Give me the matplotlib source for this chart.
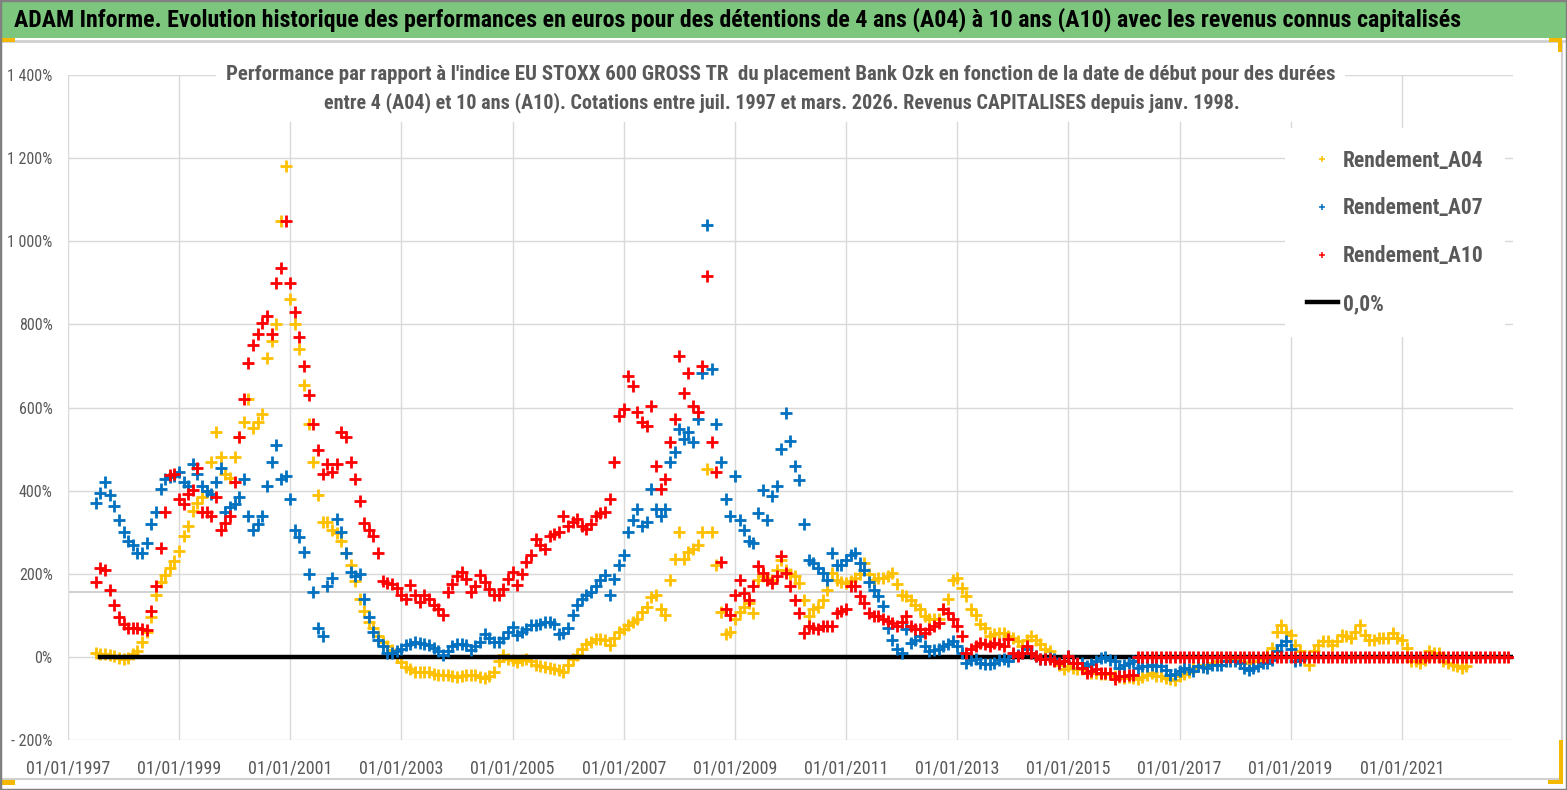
#!/usr/bin/env python3
"""Bank Ozk vs EU STOXX 600 GROSS TR: relative performance for 4, 7 and 10 year holdings.

Values are monthly readings (in %) taken on the first day of each month,
starting at the series' first start date.
"""

import matplotlib

matplotlib.use("Agg")
import matplotlib.pyplot as plt
import pandas as pd
from matplotlib import font_manager
from matplotlib.lines import Line2D
from matplotlib.patches import Rectangle

FIG_W, FIG_H = 1567, 790

BANNER_TITLE = ("ADAM Informe. Evolution historique des performances en euros pour des détentions "
                "de 4 ans (A04) à 10 ans (A10) avec les revenus connus capitalisés")
SUBTITLE_1 = ("Performance par rapport à l'indice EU STOXX 600 GROSS TR  du placement Bank Ozk "
              "en fonction de la date de début pour des durées")
SUBTITLE_2 = ("entre 4 (A04) et 10 ans (A10). Cotations entre juil. 1997 et mars. 2026. "
              "Revenus CAPITALISES depuis janv. 1998.")

SERIES_LABELS = ["Rendement_A04", "Rendement_A07", "Rendement_A10", "0,0%"]

START = "1997-07-01"

A04_VALUES = [
    9, 8, 6, 4, 2, -3,                                              # 1997 (Jul-Dec)
    -6, -2, 8, 15, 35, 60, 95, 150, 180, 196, 215, 230,             # 1998
    255, 290, 315, 350, 370, 385, 400, 470, 540, 480, 440, 430,     # 1999
    480, 530, 565, 620, 550, 565, 585, 720, 760, 800, 1048, 1180,   # 2000
    860, 800, 740, 655, 560, 470, 390, 325, 325, 305, 297, 280,     # 2001
    250, 220, 183, 140, 110, 85, 70, 50, 35, 25, 17, 0,             # 2002
    -12, -25, -30, -36, -36, -36, -36, -40, -44, -44, -44, -46,     # 2003
    -48, -46, -44, -44, -44, -48, -52, -45, -36, -10, 4, -4,        # 2004
    -8, -12, -8, -4, -10, -20, -22, -24, -26, -28, -32, -36,        # 2005
    -20, -4, 5, 20, 30, 36, 44, 44, 40, 28, 45, 60,                 # 2006
    68, 76, 85, 92, 108, 120, 145, 150, 116, 100, 185, 236,         # 2007
    300, 236, 252, 260, 268, 300, 452, 300, 220, 108, 55, 60,       # 2008
    90, 108, 120, 130, 106, 186, 194, 190, 186, 210, 234, 210,      # 2009
    200, 194, 178, 138, 98, 114, 120, 138, 162, 202, 186, 180,      # 2010
    178, 182, 190, 200, 226, 200, 186, 190, 190, 195, 202, 175,     # 2011
    150, 146, 138, 125, 114, 98, 92, 90, 90, 115, 140, 185,         # 2012
    190, 165, 146, 114, 100, 80, 70, 50, 55, 58, 58, 50,            # 2013
    45, 38, 26, 40, 50, 40, 30, 20, 14, -6, -20, -30,               # 2014
    -22, -26, -30, -30, -34, -38, -38, -40, -42, -40, -45, -48,     # 2015
    -50, -48, -51, -53, -48, -43, -39, -45, -47, -51, -53, -55,     # 2016
    -47, -42, -36, -27, -22, -19, -19, -15, -11, -11, -9, -7,       # 2017
    -7, -11, -13, -15, -11, -9, -7, 5, 21, 61, 77, 61,              # 2018
    53, 29, 13, -3, -19, 13, 29, 37, 37, 29, 37, 53,                # 2019
    50, 45, 60, 77, 53, 41, 41, 45, 45, 45, 57, 45,                 # 2020
    41, 21, -11, -11, -15, -7, 13, 9, 9, -11, -15, -19,             # 2021
    -23, -27, -23,                                                  # 2022 (Jan-Mar)
]

A07_VALUES = [
    370, 395, 420, 390, 364, 330,                                   # 1997 (Jul-Dec)
    300, 280, 268, 250, 250, 275, 320, 348, 404, 428, 432, 436,     # 1998
    445, 420, 410, 463, 440, 410, 400, 393, 420, 454, 349, 360,     # 1999
    367, 384, 428, 340, 305, 320, 340, 410, 470, 510, 428, 436,     # 2000
    380, 305, 288, 253, 200, 157, 70, 50, 170, 190, 332, 300,       # 2001
    250, 205, 195, 200, 140, 96, 61, 40, 26, 9, 9, 15,              # 2002
    20, 28, 32, 36, 34, 30, 28, 22, 15, 4, 15, 25,                  # 2003
    32, 30, 28, 16, 25, 36, 56, 45, 36, 36, 45, 60,                 # 2004
    72, 52, 60, 68, 76, 76, 78, 85, 84, 80, 56, 58,                 # 2005
    70, 100, 124, 140, 150, 156, 170, 185, 196, 148, 188, 220,      # 2006
    244, 300, 330, 356, 316, 324, 404, 356, 340, 356, 468, 492,     # 2007
    548, 524, 540, 516, 572, 684, 1040, 692, 560, 468, 380, 340,    # 2008
    434, 330, 306, 280, 274, 346, 402, 330, 386, 410, 500, 586,     # 2009
    520, 460, 426, 320, 234, 226, 215, 202, 186, 250, 222, 220,     # 2010
    234, 245, 250, 226, 210, 180, 160, 146, 122, 70, 40, 20,        # 2011
    10, 66, 34, 40, 50, 26, 14, 16, 18, 26, 30, 38,                 # 2012
    26, 10, -14, -8, -6, -14, -18, -16, -14, -8, -6, -10,           # 2013
    2, 5, 10, 18, 10, 2, -6, -4, -2, -6, -14, -10,                  # 2014
    2, -14, -14, -14, -22, -16, -10, -3, 0, -8, -11, -27,           # 2015
    -19, -15, -11, -27, -23, -21, -19, -23, -23, -31, -43, -40,     # 2016
    -35, -27, -30, -35, -23, -25, -27, -19, -19, -19, -11, -11,     # 2017
    -11, -15, -27, -31, -27, -23, -15, -15, -7, 13, 29, 37,         # 2018
    20, -11, -7,                                                    # 2019 (Jan-Mar)
]

A10_VALUES = [
    180, 215, 210, 160, 125, 95,                                    # 1997 (Jul-Dec)
    80, 70, 70, 70, 68, 65, 110, 170, 262, 349, 437, 440,           # 1998
    380, 367, 393, 402, 454, 349, 349, 340, 384, 305, 323, 340,     # 1999
    420, 530, 620, 707, 751, 777, 803, 821, 777, 900, 935, 1048,    # 2000
    900, 830, 770, 700, 630, 560, 498, 440, 463, 445, 463, 540,     # 2001
    530, 470, 428, 375, 323, 305, 290, 250, 183, 178, 175, 166,     # 2002
    150, 140, 172, 150, 132, 148, 140, 125, 116, 100, 156, 175,     # 2003
    195, 204, 188, 156, 170, 196, 180, 164, 148, 150, 164, 188,     # 2004
    204, 172, 200, 228, 244, 284, 270, 260, 292, 296, 300, 340,     # 2005
    316, 325, 332, 316, 308, 320, 340, 345, 348, 380, 468, 580,     # 2006
    596, 676, 652, 588, 564, 556, 604, 460, 404, 428, 516, 572,     # 2007
    724, 636, 684, 604, 588, 700, 916, 516, 444, 228, 116, 100,     # 2008
    150, 186, 154, 138, 170, 218, 202, 185, 178, 194, 242, 202,     # 2009
    170, 138, 106, 58, 74, 70, 66, 74, 74, 74, 106, 110,            # 2010
    114, 170, 170, 146, 130, 106, 98, 98, 90, 86, 82, 74,           # 2011
    85, 98, 74, 66, 66, 58, 66, 74, 82, 114, 106, 90,               # 2012
    74, 50, 10, 20, 26, 34, 30, 26, 34, 30, 26, 42,                 # 2013
    10, 2, 10, 26, 10, 2, -6, -6, -6, -10, -14, -10,                # 2014
    2, -14, -14, -26, -38, -34, -30, -38, -38, -38, -54, -46,       # 2015
    -46, -43, -43,                                                  # 2016 (Jan-Mar)
]
# after Mar 2016 the 10-year column has no value yet and is charted as 0 (Apr 2016 - Dec 2022)
A10_EMPTY_VALUES = [0] * 81

ZERO_LINE_DATES = ["1997-07-28", "2022-12-30"]
ZERO_LINE_VALUES = [0, 0]

REF_LEVEL = 157  # grey horizontal reference line

Y_TICKS = [-200, 0, 200, 400, 600, 800, 1000, 1200, 1400]
Y_TICK_LABELS = ["- 200%", "0%", "200%", "400%", "600%", "800%", "1 000%", "1 200%", "1 400%"]
X_TICK_YEARS = list(range(1997, 2022, 2))
X_LIMITS = ["1997-01-01", "2023-01-01"]

YELLOW, BLUE, RED = "#FFC000", "#0070C0", "#FF0000"
GREY_TEXT = "#595959"
GRID = "#D9D9D9"
BANNER_GREEN = "#7CC67E"
ORANGE = "#F5B800"


def _font() -> str:
    names = {f.name for f in font_manager.fontManager.ttflist}
    for cand in ("Liberation Sans Narrow", "Roboto Condensed", "Open Sans Condensed", "Liberation Sans"):
        if cand in names:
            return cand
    return "DejaVu Sans"


FONT = _font()


def fx(px: float) -> float:
    return px / FIG_W


def fy(px: float) -> float:
    return 1 - px / FIG_H


def _monthly(values, start=START):
    return pd.date_range(start, periods=len(values), freq="MS")


def _fit_width(fig, text, width_px):
    renderer = fig.canvas.get_renderer()
    w = text.get_window_extent(renderer).width
    text.set_fontsize(text.get_fontsize() * width_px / w)


def main() -> int:
    fig = plt.figure(figsize=(FIG_W / 100, FIG_H / 100), dpi=100)
    fig.patch.set_facecolor("white")

    ax = fig.add_axes([fx(68), fy(740), fx(1513 - 68), (740 - 75) / FIG_H])
    ax.set_facecolor("white")
    for side in ax.spines.values():
        side.set_visible(False)

    ax.set_xlim(pd.Timestamp(X_LIMITS[0]), pd.Timestamp(X_LIMITS[1]))
    ax.set_ylim(Y_TICKS[0], Y_TICKS[-1])
    ax.set_yticks(Y_TICKS)
    ax.set_yticklabels(Y_TICK_LABELS)
    ax.set_xticks([pd.Timestamp(f"{y}-01-01") for y in X_TICK_YEARS])
    ax.set_xticklabels([f"01/01/{y}" for y in X_TICK_YEARS])
    ax.tick_params(length=0, colors=GREY_TEXT)
    ax.tick_params(axis="y", pad=11)
    ax.tick_params(axis="x", pad=14)
    for lab in ax.get_yticklabels():
        lab.set_fontfamily(FONT)
        lab.set_fontsize(11.5)
    for lab in ax.get_xticklabels():
        lab.set_fontfamily(FONT)
        lab.set_fontsize(13)
    ax.grid(True, color=GRID, linewidth=1.0, zorder=0)
    ax.set_axisbelow(True)
    ax.axhline(REF_LEVEL, color="#C8C8C8", linewidth=1.2, zorder=0.5)

    mk = dict(linestyle="none", marker="+", markersize=8, markeredgewidth=2.0)
    ax.plot(_monthly(A04_VALUES), A04_VALUES, color=YELLOW, zorder=2, **mk)
    ax.plot(pd.to_datetime(ZERO_LINE_DATES), ZERO_LINE_VALUES, color="black", linewidth=3.2, zorder=2.5)
    ax.plot(_monthly(A07_VALUES), A07_VALUES, color=BLUE, zorder=3, **mk)
    a10_dates = _monthly(A10_VALUES)
    ax.plot(a10_dates, A10_VALUES, color=RED, zorder=4, **mk)
    empty_start = a10_dates[-1] + pd.offsets.MonthBegin(1)
    ax.plot(_monthly(A10_EMPTY_VALUES, empty_start), A10_EMPTY_VALUES, color=RED, zorder=4, **mk)

    handles = [
        Line2D([], [], linestyle="none", marker="+", markersize=5, markeredgewidth=1.1, color=YELLOW),
        Line2D([], [], linestyle="none", marker="+", markersize=5, markeredgewidth=1.1, color=BLUE),
        Line2D([], [], linestyle="none", marker="+", markersize=5, markeredgewidth=1.1, color=RED),
        Line2D([], [], color="black", linewidth=3.2),
    ]
    leg = ax.legend(
        handles, SERIES_LABELS, loc="upper left", bbox_to_anchor=(fx(1285), fy(128)),
        bbox_transform=fig.transFigure, frameon=True, fancybox=False, framealpha=1.0,
        facecolor="white", edgecolor="none", borderaxespad=0, borderpad=1.0,
        handlelength=1.45, handletextpad=0.23, labelspacing=1.2,
        prop=font_manager.FontProperties(family=FONT, weight="bold", size=15.5),
    )
    for t in leg.get_texts():
        t.set_color(GREY_TEXT)

    # white box behind the chart title, hiding the gridlines
    fig.patches.append(Rectangle((fx(216), fy(122)), fx(1345 - 216), 64 / FIG_H,
                                 transform=fig.transFigure, facecolor="white", edgecolor="none", zorder=1))
    s1 = fig.text(fx(781), fy(75), SUBTITLE_1, ha="center", va="center", color=GREY_TEXT,
                  fontfamily=FONT, fontweight="bold", fontsize=13, zorder=2)
    s2 = fig.text(fx(782), fy(103), SUBTITLE_2, ha="center", va="center", color=GREY_TEXT,
                  fontfamily=FONT, fontweight="bold", fontsize=13, zorder=2)

    # green banner with the report title
    fig.patches.append(Rectangle((fx(2), fy(38)), fx(FIG_W - 2), 36 / FIG_H,
                                 transform=fig.transFigure, facecolor=BANNER_GREEN, edgecolor="none", zorder=1))
    title = fig.text(fx(14), fy(20), BANNER_TITLE, ha="left", va="center", color="black",
                     fontfamily=FONT, fontweight="bold", fontsize=15, zorder=2)

    # frame lines and selection handles of the original sheet
    frame = dict(transform=fig.transFigure, zorder=1)
    fig.lines.append(Line2D([fx(0), fx(FIG_W)], [fy(41), fy(41)], color="#D0D0D0", linewidth=2, **frame))
    fig.lines.append(Line2D([fx(1562), fx(1562)], [fy(41), fy(780)], color="#D0D0D0", linewidth=1.5, **frame))
    fig.lines.append(Line2D([fx(0), fx(1562)], [fy(779), fy(779)], color="#D0D0D0", linewidth=1.5, **frame))
    fig.patches.append(Rectangle((0, 0), 1, 1, transform=fig.transFigure, facecolor="none",
                                 edgecolor="#808080", linewidth=2.5, zorder=3))
    for (x0, y0, w, h) in [(0, 38, 15, 4), (0, 780, 15, 5), (1549, 38, 13, 4), (1558, 38, 4, 14),
                           (1559, 740, 4, 44), (1548, 780, 15, 4)]:
        fig.patches.append(Rectangle((fx(x0), fy(y0 + h)), fx(w), h / FIG_H, transform=fig.transFigure,
                                     facecolor=ORANGE, edgecolor="none", zorder=2))

    fig.canvas.draw()
    _fit_width(fig, title, 1446)
    _fit_width(fig, s1, 1107)
    _fit_width(fig, s2, 915)

    fig.savefig("out.png", dpi=100, facecolor="white")
    plt.close(fig)
    return 0


if __name__ == "__main__":
    raise SystemExit(main())
